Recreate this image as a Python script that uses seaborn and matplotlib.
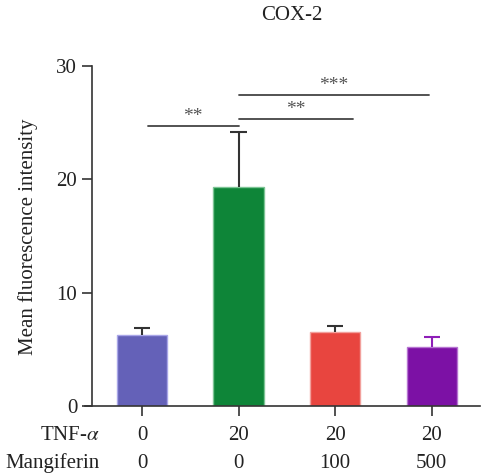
import matplotlib
matplotlib.use("Agg")
import matplotlib.pyplot as plt
import seaborn as sns
import pandas as pd
import matplotlib.transforms as mtransforms

groups = ["G1", "G2", "G3", "G4"]
means = [6.3, 19.3, 6.5, 5.2]
errors = [0.55, 4.9, 0.55, 0.9]
colors = ["#6461B8", "#0E8538", "#E8453F", "#7C11A5"]
err_colors = ["#333333", "#333333", "#333333", "#8E1EB8"]
edge_colors = ["#A9A6E8", "#7CC494", "#F2A09C", "#B774D2"]
tnf = ["0", "20", "20", "20"]
mangiferin = ["0", "0", "100", "500"]
sig_pairs = [(0.06, 1.0), (1.0, 2.18), (1.0, 2.97)]
sig_heights = [24.7, 25.3, 27.4]
sig_labels = ["**", "**", "***"]

sns.set_style("ticks")
plt.rcParams["font.family"] = ["Liberation Serif", "DejaVu Serif"]
plt.rcParams["mathtext.fontset"] = "stix"

fig = plt.figure(figsize=(4.84, 4.76), dpi=100)
ax = fig.add_axes([85 / 484, 1 - 406 / 476, 395 / 484, 340 / 476])

df = pd.DataFrame({"group": groups, "mean": means})
sns.barplot(data=df, x="group", y="mean", hue="group", palette=colors,
            legend=False, width=0.52, ax=ax, errorbar=None,
            saturation=1, linewidth=1.0)
for p, ec in zip(ax.patches, edge_colors):
    p.set_edgecolor(ec)

cap_half = 0.085
for i, (m, e, c) in enumerate(zip(means, errors, err_colors)):
    ax.vlines(i, m, m + e, colors=c, linewidth=1.5, zorder=3)
    ax.hlines(m + e, i - cap_half, i + cap_half, colors=c, linewidth=1.5,
              zorder=3)

ax.set_xlim(-0.59, 3.5)
ax.set_ylim(0, 30)
ax.set_yticks([0, 10, 20, 30])
ax.set_xticks(range(4))
ax.set_xticklabels([])
ax.set_xlabel("")
ax.set_ylabel("")
for s in ["top", "right"]:
    ax.spines[s].set_visible(False)
ax.spines["left"].set_position(("data", -0.52))
for s in ["left", "bottom"]:
    ax.spines[s].set_color("#333333")
    ax.spines[s].set_linewidth(1.2)
ax.tick_params(axis="both", colors="#333333", width=1.2, length=7,
               labelsize=15, labelcolor="#222222")
ax.tick_params(axis="y", pad=3.5)

for (x0, x1), h, lab in zip(sig_pairs, sig_heights, sig_labels):
    ax.plot([x0, x1], [h, h], color="#444444", lw=1.3, clip_on=False)
    ax.text((x0 + x1) / 2, h + 0.1, lab, ha="center", va="bottom",
            fontsize=14, color="#555555")

trans = mtransforms.blended_transform_factory(ax.transData, fig.transFigure)
y_tnf = 1 - 436 / 476
y_man = 1 - 463 / 476
for i in range(4):
    ax.text(i, y_tnf, tnf[i], transform=trans, ha="center", va="center",
            fontsize=15, color="#222222")
    ax.text(i, y_man, mangiferin[i], transform=trans, ha="center",
            va="center", fontsize=15, color="#222222")
fig.text(100 / 484, y_tnf, r"TNF-$\alpha$", ha="right", va="center",
         fontsize=15, color="#222222")
fig.text(100 / 484, y_man, "Mangiferin", ha="right", va="center",
         fontsize=15, color="#222222")

fig.text(292 / 484, 1 - 15 / 476, "COX-2", ha="center", va="center",
         fontsize=15, color="#222222")
fig.text(28 / 484, 1 - 237 / 476, "Mean fluorescence intensity",
         rotation=90, ha="center", va="center", fontsize=15,
         color="#222222")

fig.savefig("out.png", dpi=100)
